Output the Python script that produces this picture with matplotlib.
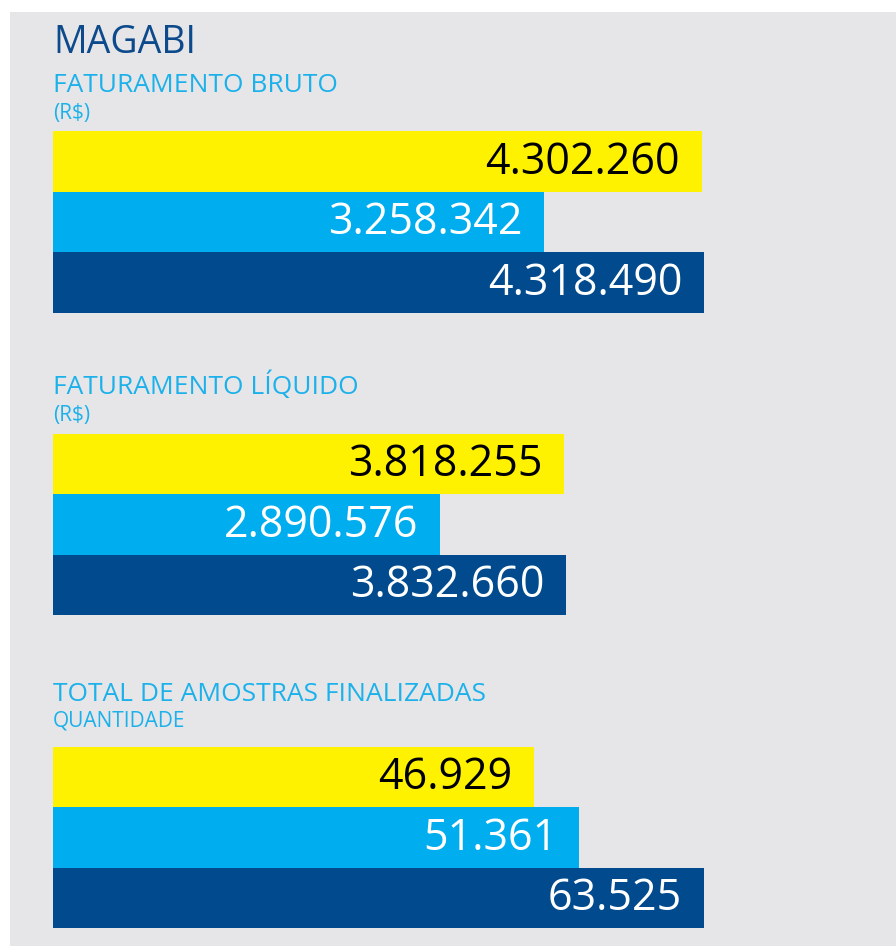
import numpy as np
import matplotlib
matplotlib.use("Agg")
import matplotlib.pyplot as plt
from matplotlib.patches import Rectangle

plt.rcParams['font.family'] = ['Open Sans', 'DejaVu Sans']

# data
title = "MAGABI"
panel_titles = ["FATURAMENTO BRUTO", "FATURAMENTO LÍQUIDO", "TOTAL DE AMOSTRAS FINALIZADAS"]
panel_units = ["(R$)", "(R$)", "QUANTIDADE"]
bruto = [4302260, 3258342, 4318490]
liquido = [3818255, 2890576, 3832660]
amostras = [46929, 51361, 63525]

YELLOW = "#fff200"
CYAN = "#00aeef"
NAVY = "#004a8d"
BG = "#e6e6e9"
bar_colors = [YELLOW, CYAN, NAVY]
text_colors = ["black", "white", "white"]

W, H = 896, 946
fig = plt.figure(figsize=(W / 100, H / 100), dpi=100)
fig.patch.set_facecolor("white")
fig.patches.append(Rectangle((10 / W, 0), 1, 1 - 12 / H, transform=fig.transFigure,
                             facecolor=BG, edgecolor="none", zorder=-10))


def fmt(v):
    return f"{v:,}".replace(",", ".")


def px(x, y):
    # pixel coords (top-left origin) -> figure fraction
    return x / W, 1 - y / H


# heading texts
fig.text(*px(53, 53), title, color="#0d4a8c", fontsize=27, va="baseline", ha="left")

# (top px of bar block, bottom px, baseline of title, baseline of unit, width px of largest bar)
layout = [
    (131, 313, 92, 119, 651),
    (434, 615, 394, 421, 513),
    (747, 928, 701, 726, 651),
]

for vals, ttl, unit, (top, bot, tb, ub, maxw) in zip(
        [bruto, liquido, amostras], panel_titles, panel_units, layout):
    fig.text(*px(53, tb), ttl, color="#1cb1ea", fontsize=19, va="baseline", ha="left")
    fig.text(*px(53, ub), unit, color="#1cb1ea", fontsize=15, va="baseline", ha="left")

    axw = 800
    ax = fig.add_axes([53 / W, 1 - bot / H, axw / W, (bot - top) / H])
    ax.set_facecolor("none")
    ypos = np.arange(len(vals))[::-1]
    ax.barh(ypos, vals, height=1.0, color=bar_colors, edgecolor="none")
    ax.set_ylim(-0.5, 2.5)
    ax.set_xlim(0, max(vals) * axw / maxw)
    for y, v, tc in zip(ypos, vals, text_colors):
        ax.annotate(fmt(v), (v, y), xytext=(-22, -1), textcoords="offset pixels",
                    ha="right", va="center", fontsize=31, color=tc)
    ax.axis("off")

fig.savefig("out.png", dpi=100)
